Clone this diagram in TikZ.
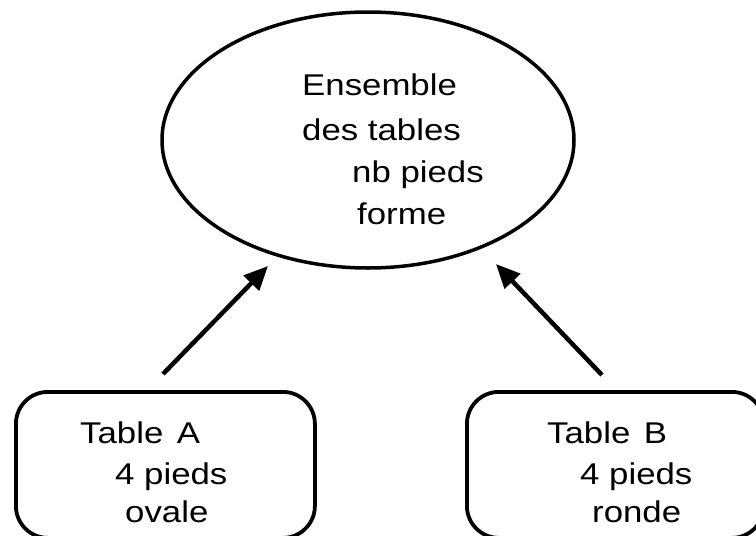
\documentclass[tikz,border=0pt]{standalone}
\usepackage{fontspec}
\setmainfont{Liberation Sans}[FakeStretch=1.16]
\usetikzlibrary{shapes.geometric,arrows.meta}

\begin{document}
\begin{tikzpicture}[x=1pt,y=-1pt,
  label/.style={anchor=base west, inner sep=0pt, font=\fontsize{30}{43}\selectfont},
  setshape/.style={draw, ellipse, line width=3.5pt, inner sep=0pt,
                   minimum width=412pt, minimum height=256pt},
  tablebox/.style={draw, rounded corners=32pt, line width=3.8pt, inner sep=0pt,
                   anchor=north west, minimum height=146pt},
  link/.style={line width=4.5pt, -{Triangle[length=24pt,width=21pt]}}
]
\useasboundingbox[fill=white] (0,0) rectangle (756,536);

% the set of all tables
\node[setshape] (ens) at (368,140) {};
\node[label] (ens1) at (302,95)  {Ensemble};
\node[label] (ens2) at (302,140) {des tables};
\node[label] (ens3) at (352,182) {nb pieds};
\node[label] (ens4) at (357,224) {forme};

% table A
\node[tablebox, minimum width=299pt] (boxA) at (14,390) {};
\node[label] (a1) at (80,443)  {Table\hspace{0.45em}A};
\node[label] (a2) at (115,484) {4 pieds};
\node[label] (a3) at (125,522) {ovale};

% table B
\node[tablebox, minimum width=297pt] (boxB) at (465,390) {};
\node[label] (b1) at (547,443) {Table\hspace{0.45em}B};
\node[label] (b2) at (580,484) {4 pieds};
\node[label] (b3) at (592,522) {ronde};

% instance arrows
\coordinate (tailA) at (163,374);
\coordinate (tipA)  at (268,266);
\coordinate (tailB) at (602,375);
\coordinate (tipB)  at (496,264);
\draw[link] (tailA) -- (tipA);
\draw[link] (tailB) -- (tipB);
\end{tikzpicture}
\end{document}
